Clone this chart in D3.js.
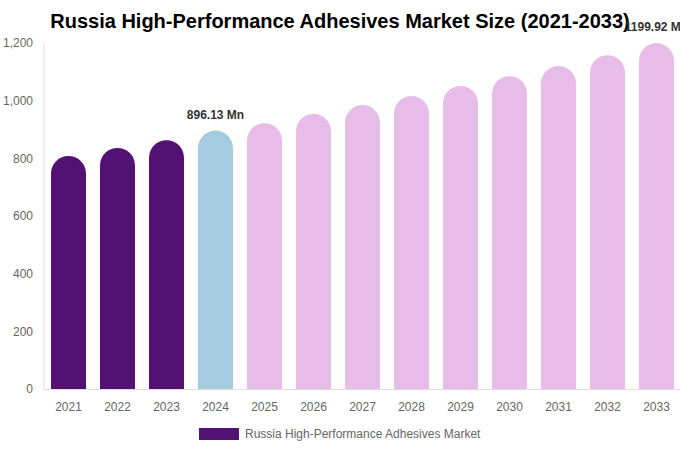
<!DOCTYPE html>
<html>
<head>
<meta charset="utf-8">
<script src="https://cdn.jsdelivr.net/npm/d3@7"></script>
<style>
  html, body { margin: 0; padding: 0; background: #fff; }
  svg { display: block; font-family: "Liberation Sans", Arial, sans-serif; }
</style>
</head>
<body>
<div id="chart"></div>
<script>
// Russia High-Performance Adhesives Market Size (2021-2033)
const years  = ['2021','2022','2023','2024','2025','2026','2027','2028','2029','2030','2031','2032','2033'];
const values = [808, 836, 863, 896.13, 922, 954, 985, 1016, 1051, 1085, 1120, 1158, 1199.92];
const labelled = { '2024': '896.13 Mn', '2033': '1199.92 Mn' };
const yTickValues = [0, 200, 400, 600, 800, 1000, 1200];
const seriesName = 'Russia High-Performance Adhesives Market';

const W = 680, H = 450;
const margin = { top: 43, right: -1, bottom: 61, left: 44 };
const innerW = W - margin.left - margin.right;
const innerH = H - margin.top - margin.bottom;

const colorFor = (y) => +y < 2024 ? '#541174' : (+y === 2024 ? '#a4cbdf' : '#e7bce8');

const svg = d3.select('#chart').append('svg')
  .attr('width', W).attr('height', H);

// Title
svg.append('text')
  .attr('x', 340).attr('y', 28)
  .attr('text-anchor', 'middle')
  .attr('font-size', 20).attr('font-weight', 'bold')
  .attr('fill', '#000')
  .text('Russia High-Performance Adhesives Market Size (2021-2033)');

const g = svg.append('g').attr('transform', `translate(${margin.left},${margin.top})`);

const x = d3.scaleBand().domain(years).range([0, innerW])
  .paddingInner(0.286).paddingOuter(0.143);
const y = d3.scaleLinear().domain([0, 1200]).range([innerH, 0]);

// Axis lines
g.append('line')
  .attr('x1', 0).attr('x2', 0).attr('y1', 0).attr('y2', innerH)
  .attr('stroke', '#ddd').attr('stroke-width', 1);
g.append('line')
  .attr('x1', 0).attr('x2', innerW).attr('y1', innerH + 0.5).attr('y2', innerH + 0.5)
  .attr('stroke', '#ddd').attr('stroke-width', 1);

// Y labels
g.selectAll('.ytick').data(yTickValues).join('text')
  .attr('class', 'ytick')
  .attr('x', -11).attr('y', d => y(d))
  .attr('dy', '0.35em')
  .attr('text-anchor', 'end')
  .attr('font-size', 12).attr('fill', '#666')
  .text(d => d3.format(',')(d));

// X labels
g.selectAll('.xtick').data(years).join('text')
  .attr('class', 'xtick')
  .attr('x', d => x(d) + x.bandwidth() / 2).attr('y', innerH + 22)
  .attr('text-anchor', 'middle')
  .attr('font-size', 12).attr('fill', '#666')
  .text(d => d);

// Bars with fully rounded tops
const bw = x.bandwidth(), r = bw / 2;
const barPath = (d, i) => {
  const x0 = x(d), top = y(values[i]), bottom = innerH;
  return `M${x0},${bottom} L${x0},${top + r} A${r},${r} 0 0 1 ${x0 + bw},${top + r} L${x0 + bw},${bottom} Z`;
};
g.selectAll('.bar').data(years).join('path')
  .attr('class', 'bar')
  .attr('d', barPath)
  .attr('fill', d => colorFor(d));

// Value labels
g.selectAll('.vlabel').data(years.filter(d => labelled[d])).join('text')
  .attr('class', 'vlabel')
  .attr('x', d => x(d) + bw / 2)
  .attr('y', d => y(values[years.indexOf(d)]) - 12)
  .attr('text-anchor', 'middle')
  .attr('font-size', 12).attr('font-weight', 'bold').attr('fill', '#333')
  .text(d => labelled[d]);

// Legend
const lg = svg.append('g').attr('transform', 'translate(199,428)');
lg.append('rect').attr('width', 40).attr('height', 12).attr('fill', '#541174');
lg.append('text').attr('x', 46).attr('y', 6).attr('dy', '0.35em')
  .attr('font-size', 12).attr('fill', '#666')
  .text(seriesName);
</script>
</body>
</html>
